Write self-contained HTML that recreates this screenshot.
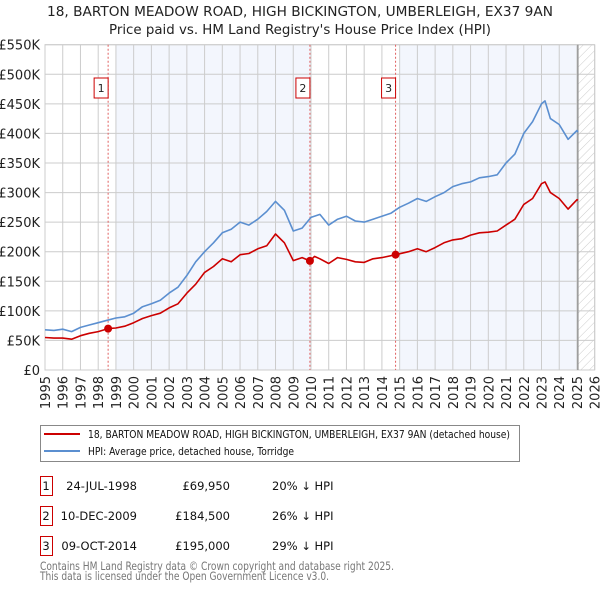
<!DOCTYPE html>
<html><head><meta charset="utf-8"><style>
body{margin:0;background:#fff;font-family:"Liberation Sans","DejaVu Sans",sans-serif;}
svg text{font-family:"DejaVu Sans","Liberation Sans",sans-serif;}
</style></head><body>
<svg id="c" width="600" height="590" xmlns="http://www.w3.org/2000/svg">
<defs><pattern id="hatch" width="6" height="6" patternUnits="userSpaceOnUse" patternTransform="rotate(45)"><line x1="0" y1="0" x2="0" y2="6" stroke="#ccc" stroke-width="1"/></pattern></defs>
<text x="300" y="16" text-anchor="middle" font-size="13" fill="#222" textLength="506" lengthAdjust="spacingAndGlyphs">18, BARTON MEADOW ROAD, HIGH BICKINGTON, UMBERLEIGH, EX37 9AN</text>
<text x="300" y="34" text-anchor="middle" font-size="13" fill="#222" textLength="382" lengthAdjust="spacingAndGlyphs">Price paid vs. HM Land Registry's House Price Index (HPI)</text>
<g id="plot"></g>
<g>
<rect x="40.5" y="425.5" width="479" height="36" fill="#fff" stroke="#888"/>
<line x1="44" y1="434" x2="80" y2="434" stroke="#cc0000" stroke-width="2"/>
<text x="88" y="438" font-size="11" fill="#111" textLength="422" lengthAdjust="spacingAndGlyphs">18, BARTON MEADOW ROAD, HIGH BICKINGTON, UMBERLEIGH, EX37 9AN (detached house)</text>
<line x1="44" y1="451" x2="80" y2="451" stroke="#5b8fd0" stroke-width="2"/>
<text x="88" y="455" font-size="11" fill="#111" textLength="206" lengthAdjust="spacingAndGlyphs">HPI: Average price, detached house, Torridge</text>
</g>
<g id="table"></g>
<text x="40" y="570" font-size="11.5" fill="#777" textLength="354" lengthAdjust="spacingAndGlyphs">Contains HM Land Registry data © Crown copyright and database right 2025.</text>
<text x="40" y="580" font-size="11.5" fill="#777" textLength="289" lengthAdjust="spacingAndGlyphs">This data is licensed under the Open Government Licence v3.0.</text>
</svg>
<script>
const hpiYears=[1995,1995.5,1996,1996.5,1997,1997.5,1998,1998.5,1999,1999.5,2000,2000.5,2001,2001.5,2002,2002.5,2003,2003.5,2004,2004.5,2005,2005.5,2006,2006.5,2007,2007.5,2008,2008.5,2009,2009.5,2010,2010.5,2011,2011.5,2012,2012.5,2013,2013.5,2014,2014.5,2015,2015.5,2016,2016.5,2017,2017.5,2018,2018.5,2019,2019.5,2020,2020.5,2021,2021.5,2022,2022.5,2023,2023.2,2023.5,2024,2024.5,2025,2025.05];
const hpiValues=[68,67,69,65,72,76,80,84,88,90,96,107,112,118,130,140,160,183,200,215,232,238,250,245,255,268,285,270,235,240,258,263,245,255,260,252,250,255,260,265,275,282,290,285,293,300,310,315,318,325,327,330,350,365,400,420,450,455,425,415,390,405,402];
const propYears=[1995,1995.5,1996,1996.5,1997,1997.5,1998,1998.56,1999,1999.5,2000,2000.5,2001,2001.5,2002,2002.5,2003,2003.5,2004,2004.5,2005,2005.5,2006,2006.5,2007,2007.5,2008,2008.5,2009,2009.5,2009.94,2010.2,2010.5,2011,2011.5,2012,2012.5,2013,2013.5,2014,2014.77,2015.5,2016,2016.5,2017,2017.5,2018,2018.5,2019,2019.5,2020,2020.5,2021,2021.5,2022,2022.5,2023,2023.2,2023.5,2024,2024.5,2025,2025.05];
const propValues=[55,54,54,52,58,62,65,70,71,74,80,87,92,96,105,112,130,145,165,175,188,183,195,197,205,210,230,215,185,190,184.5,192,188,180,190,187,183,182,188,190,195,200,205,200,207,215,220,222,228,232,233,235,245,255,280,290,315,318,300,290,272,288,287];
const saleLabels=["1","2","3"];
const saleYears=[1998.56,2009.94,2014.77];
const saleValues=[69.95,184.5,195];
const saleDates=["24-JUL-1998","10-DEC-2009","09-OCT-2014"];
const salePrices=["£69,950","£184,500","£195,000"];
const saleDiffs=["20% ↓ HPI","26% ↓ HPI","29% ↓ HPI"];
const yTicks=[0,50,100,150,200,250,300,350,400,450,500,550];
const yTickLabels=["£0","£50K","£100K","£150K","£200K","£250K","£300K","£350K","£400K","£450K","£500K","£550K"];
const xTicks=[1995,1996,1997,1998,1999,2000,2001,2002,2003,2004,2005,2006,2007,2008,2009,2010,2011,2012,2013,2014,2015,2016,2017,2018,2019,2020,2021,2022,2023,2024,2025,2026];

const L=45,R=594.7,T=44.7,B=370,x0=1995,x1=2026,yMax=550;
const X=v=>L+(v-x0)/(x1-x0)*(R-L);
const Y=v=>B-v/yMax*(B-T);
const NS="http://www.w3.org/2000/svg";
const plot=document.getElementById('plot');
function mk(tag,attrs,parent){const e=document.createElementNS(NS,tag);for(const k in attrs)e.setAttribute(k,attrs[k]);(parent||plot).appendChild(e);return e;}

let r;
r=mk('rect',{x:X(1999),y:T,width:X(2010)-X(1999),height:B-T,fill:'#f3f6fd'});


r=mk('rect',{x:X(2015),y:T,width:X(2025.05)-X(2015),height:B-T,fill:'#f3f6fd'});


r=mk('rect',{x:X(2025.05),y:T,width:R-X(2025.05),height:B-T,fill:'url(#hatch)'});



yTicks.forEach((v,i)=>{
  const g=mk('line',{x1:L,x2:R,y1:Y(v),y2:Y(v),stroke:'#ccc','stroke-width':1});
  
  
  const t=mk('text',{x:40,y:Y(v)+5,'text-anchor':'end','font-size':13,fill:'#222'});
  t.textContent=yTickLabels[i];
  
  
});
xTicks.forEach(v=>{
  const g=mk('line',{x1:X(v),x2:X(v),y1:T,y2:B,stroke:'#ccc','stroke-width':1});
  
  
  const t=mk('text',{x:0,y:0,'text-anchor':'end','font-size':13,fill:'#222',transform:`translate(${X(v)+5},376) rotate(-90)`});
  t.textContent=v;
  
  
});
r=mk('rect',{x:L,y:T,width:R-L,height:B-T,fill:'none',stroke:'#ccc'});


r=mk('line',{x1:X(2025.05),x2:X(2025.05),y1:T,y2:B,stroke:'#999','stroke-width':1.5});



saleYears.forEach((v,i)=>{
  const l=mk('line',{x1:X(v),x2:X(v),y1:T,y2:B,stroke:'#e06060','stroke-width':1,'stroke-dasharray':'2,2'});
  
  
  const b=mk('rect',{x:X(v)-14,y:78,width:14,height:20,fill:'#fff',stroke:'#cc0000'});
  
  
  const t=mk('text',{x:X(v)-7,y:92,'text-anchor':'middle','font-size':11,fill:'#222'});
  t.textContent=saleLabels[i];
  
  
});

function line(xs,ys,color,name){
  const p=mk('polyline',{points:xs.map((v,i)=>X(v).toFixed(1)+','+Y(ys[i]).toFixed(1)).join(' '),fill:'none',stroke:color,'stroke-width':1.6,'stroke-linejoin':'round'});
  
  
}
line(hpiYears,hpiValues,'#5b8fd0','hpi-line');
line(propYears,propValues,'#cc0000','property-price-line');
saleYears.forEach((v,i)=>{
  const c=mk('circle',{cx:X(v),cy:Y(saleValues[i]),r:4,fill:'#cc0000'});
  
  
});

const tb=document.getElementById('table');
saleLabels.forEach((s,i)=>{
  const y=476+i*30;
  const b=mk('rect',{x:40.5,y:y+0.5,width:12,height:19,fill:'#fff',stroke:'#cc0000'},tb);
  
  
  const cells=[[46,'middle',s,'table-sale-number'],[137,'end',saleDates[i],'table-sale-date'],[230,'end',salePrices[i],'table-sale-price'],[272,'start',saleDiffs[i],'table-sale-hpi-diff']];
  cells.forEach(c=>{
    const t=mk('text',{x:c[0],y:y+14,'text-anchor':c[1],'font-size':11.5,fill:'#111'},tb);
    t.textContent=c[2];
    
    
  });
});
</script>
</body></html>
